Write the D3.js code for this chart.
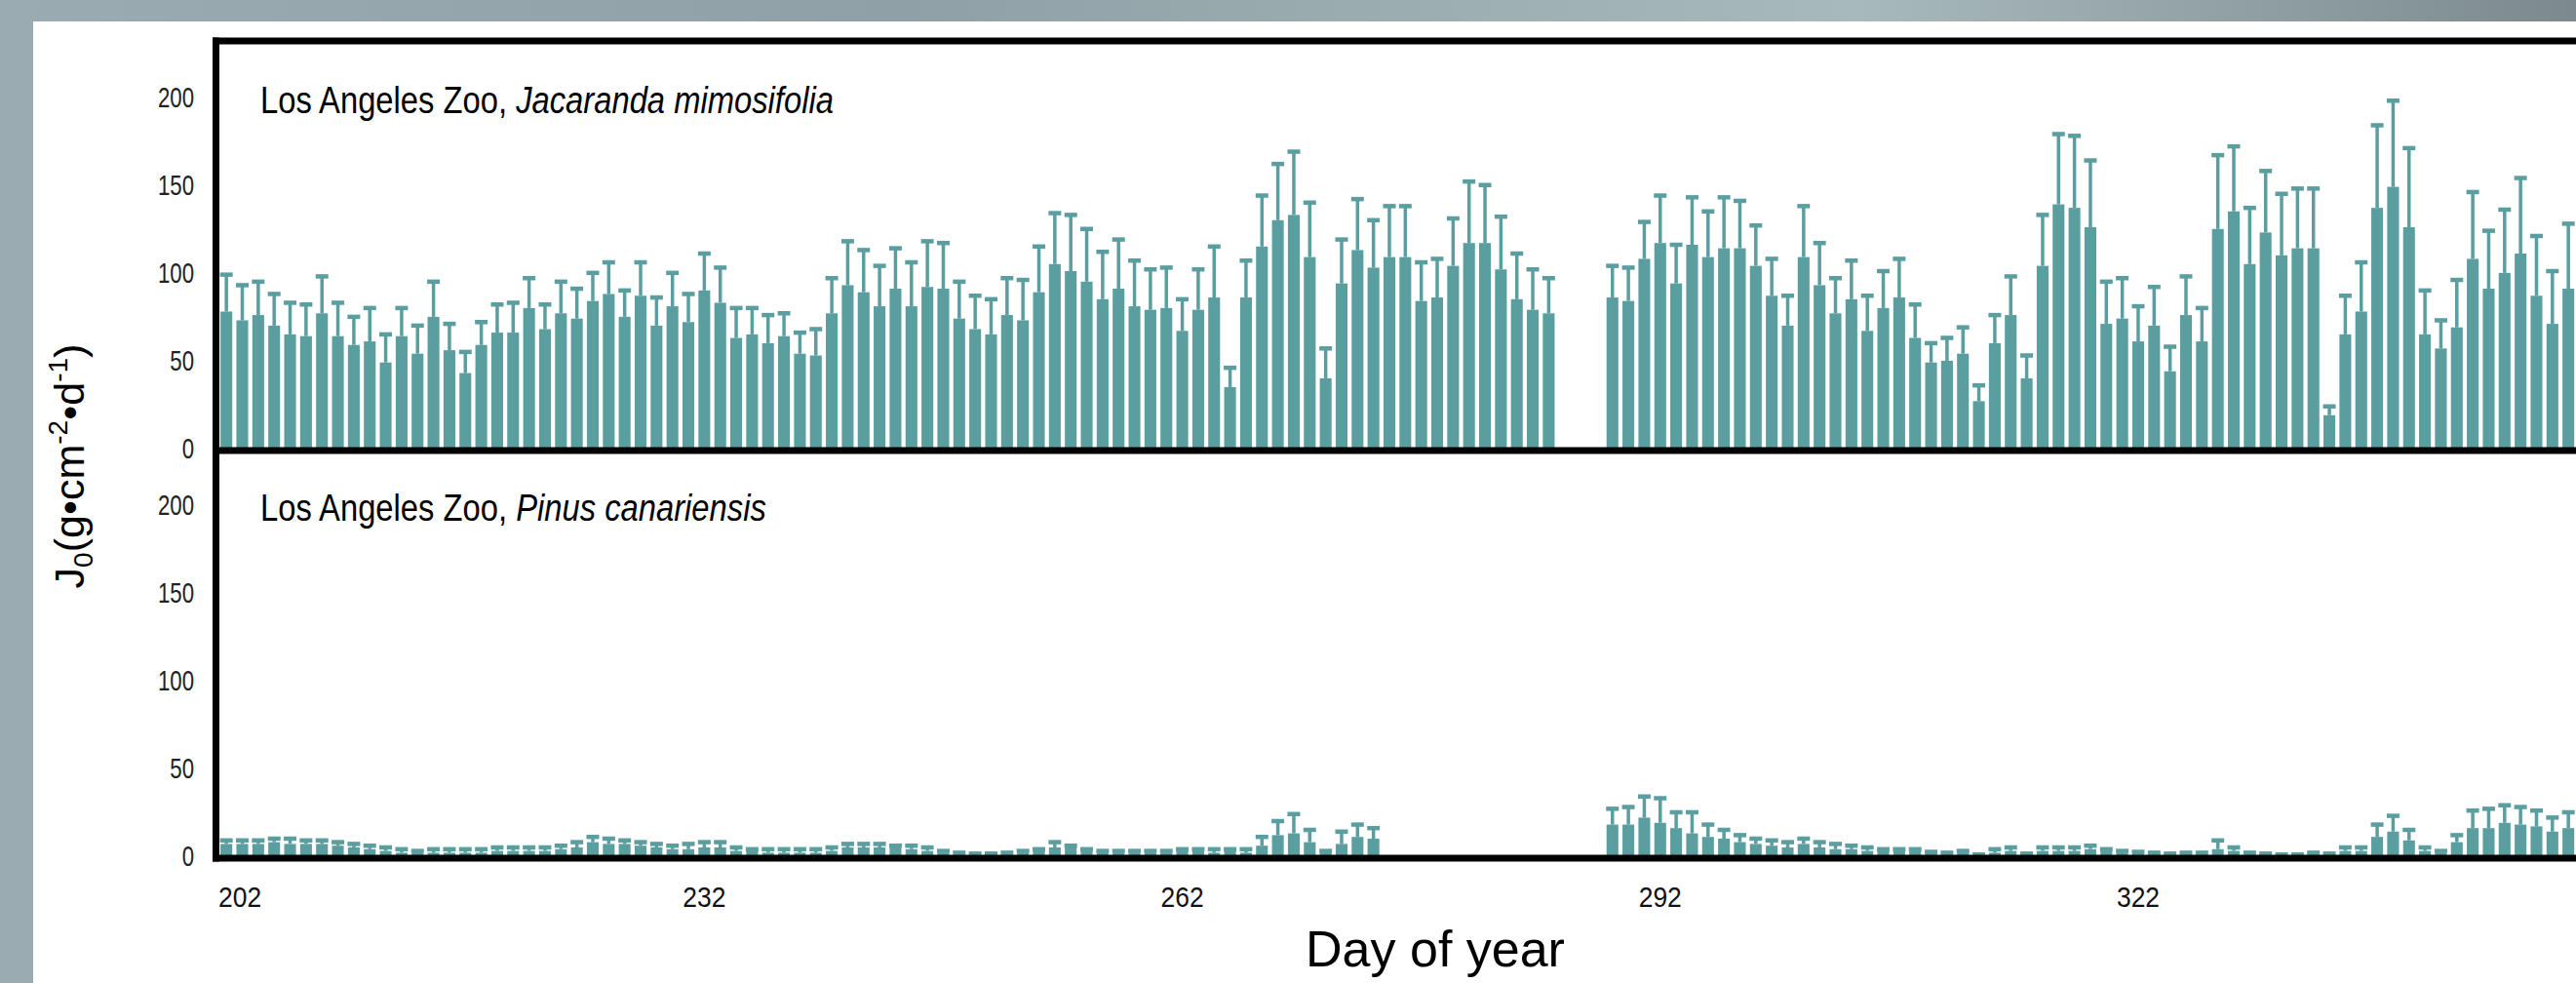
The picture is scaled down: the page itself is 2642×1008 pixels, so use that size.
<!DOCTYPE html>
<html>
<head>
<meta charset="utf-8">
<script src="https://cdn.jsdelivr.net/npm/d3@7"></script>
<style>
  html, body { margin: 0; padding: 0; background: #fff; }
  svg { display: block; font-family: "Liberation Sans", Arial, Helvetica, sans-serif; }
</style>
</head>
<body>
<div id="chart"></div>
<script>
// day of year, one bar per day (202 .. 350)
const days = d3.range(202, 351)

// Jacaranda mimosifolia, mean and standard error (g cm-2 d-1); null = no data
const jacMean = [78, 73, 76, 70, 65, 64, 77, 64, 59, 61, 49, 64, 54, 75, 56, 43, 59, 66, 66, 80,
    68, 77, 74, 84, 88, 75, 87, 70, 81, 72, 90, 83, 63, 65, 60, 64, 54, 53, 77, 93,
    89, 81, 91, 81, 92, 91, 74, 68, 65, 76, 73, 89, 105, 101, 95, 85, 91, 81, 79, 80,
    67, 79, 86, 35, 86, 115, 130, 133, 109, 40, 94, 113, 103, 109, 109, 84, 86, 104, 117, 117,
    102, 85, 79, 77, null, null, null, 86, 84, 108, 117, 94, 116, 109, 114, 114, 104, 87, 70, 109,
    93, 77, 85, 67, 80, 86, 63, 49, 50, 54, 27, 60, 76, 40, 104, 139, 137, 126, 71, 74,
    61, 70, 44, 76, 61, 125, 135, 105, 123, 110, 114, 114, 19, 65, 78, 137, 149, 126, 65, 57,
    69, 108, 91, 100, 111, 87, 71, 91, 95]
const jacSe = [21, 20, 19, 18, 18, 18, 21, 19, 16, 19, 16, 16, 16, 20, 15, 12, 13, 16, 17, 17,
    14, 18, 17, 16, 18, 15, 19, 16, 19, 16, 21, 20, 17, 15, 16, 13, 12, 15, 20, 25,
    24, 23, 23, 25, 26, 26, 21, 19, 20, 21, 23, 26, 29, 32, 30, 27, 28, 26, 23, 23,
    18, 23, 29, 11, 21, 29, 32, 36, 31, 17, 25, 29, 27, 29, 29, 22, 22, 27, 35, 33,
    30, 26, 23, 20, null, null, null, 18, 19, 21, 27, 22, 27, 26, 29, 27, 23, 21, 17, 29,
    24, 20, 22, 20, 21, 22, 19, 11, 13, 15, 9, 16, 22, 13, 29, 40, 41, 38, 24, 23,
    20, 22, 14, 22, 19, 42, 37, 32, 35, 35, 34, 34, 5, 22, 28, 47, 49, 45, 25, 16,
    27, 38, 33, 36, 43, 34, 30, 37, 30]

// Pinus canariensis
const pinMean = [7, 7, 7, 8, 7, 7, 7, 6, 5, 4, 3, 2, 2, 2, 2, 2, 2, 3, 3, 3,
    3, 4, 5, 8, 7, 7, 6, 5, 4, 4, 5, 5, 3, 3, 2, 2, 2, 2, 3, 5,
    5, 5, 5, 4, 3, 2, 1, 1, 1, 1, 2, 3, 5, 5, 3, 2, 2, 2, 2, 2,
    3, 3, 2, 3, 2, 6, 12, 13, 8, 2, 7, 11, 10, null, null, null, null, null, null, null,
    null, null, null, null, null, null, null, 18, 18, 22, 19, 16, 13, 11, 10, 8, 7, 6, 5, 7,
    5, 4, 4, 3, 3, 3, 3, 2, 1, 2, 0.5, 2, 3, 1, 3, 3, 3, 4, 3, 2,
    2, 1, 1, 1, 1, 4, 3, 1, 1, 0, 0, 1, 1, 3, 3, 11, 14, 9, 3, 2,
    8, 16, 16, 19, 18, 17, 14, 16, 15]
const pinSe = [2, 2, 2, 2, 3, 2, 2, 2, 2, 2, 2, 2, 1, 2, 2, 2, 2, 2, 2, 2,
    2, 2, 3, 3, 3, 2, 2, 2, 2, 3, 3, 3, 2, 1, 2, 2, 2, 2, 2, 2,
    2, 2, 1, 2, 2, 1, 1, 0.5, 0.5, 1, 1, 1, 3, 1, 1, 1, 1, 1, 1, 1,
    1, 1, 2, 1, 2, 5, 8, 11, 7, 1, 7, 7, 6, null, null, null, null, null, null, null,
    null, null, null, null, null, null, null, 9, 10, 12, 14, 9, 12, 7, 5, 4, 3, 3, 3, 3,
    3, 3, 2, 2, 1, 1, 1, 0.5, 1, 1, 0.5, 2, 2, 0.5, 2, 2, 2, 2, 1, 1,
    0.5, 1, 0.5, 1, 1, 5, 2, 1, 0.5, 1, 1, 1, 0.5, 2, 2, 7, 9, 6, 2, 1,
    4, 10, 11, 10, 10, 9, 8, 9, 9]

const yTicks = [0, 50, 100, 150, 200]
const xTicks = [202, 232, 262, 292, 322]

var width = 2642
var height = 1008
var bar_color = "#5b9ea0"
var day_step = 16.34
var axis_x = 224

var svg = d3.select("#chart").append("svg")
    .attr("width", width)
    .attr("height", height)

// squeeze text horizontally, the original uses a narrow Helvetica
function condense(sel, k) {
    sel.each(function () {
        var len = this.getComputedTextLength()
        d3.select(this).attr("textLength", len * k).attr("lengthAdjust", "spacingAndGlyphs")
    })
}

// slide background
var grad = svg.append("defs").append("linearGradient")
    .attr("id", "bg").attr("x1", "0%").attr("x2", "100%")
grad.append("stop").attr("offset", "0%").attr("stop-color", "#9aacb1")
grad.append("stop").attr("offset", "35%").attr("stop-color", "#8fa0a6")
grad.append("stop").attr("offset", "72%").attr("stop-color", "#a8b9bd")
grad.append("stop").attr("offset", "100%").attr("stop-color", "#7c8a8f")
svg.append("rect").attr("width", width).attr("height", height).attr("fill", "url(#bg)")
svg.append("rect").attr("x", 34).attr("y", 22)
    .attr("width", width - 34).attr("height", height - 22).attr("fill", "#fff")

// x: one band per day, runs past the right edge like the original
var all_days = d3.range(202, 353)
var x = d3.scaleBand()
    .domain(all_days)
    .range([axis_x, axis_x + all_days.length * day_step])
    .paddingInner(0.26)
    .paddingOuter(0.13)

var y_top = d3.scaleLinear().domain([0, 232]).range([460, 42])
var y_bot = d3.scaleLinear().domain([0, 232]).range([878, 460])

function draw_panel(mean, se, y, name, species) {
    var data = []
    for (var i = 0; i < days.length; ++i) {
        if (mean[i] === null) continue
        data.push({ day: days[i], mean: mean[i], se: se[i] })
    }
    var g = svg.append("g")
    var half = x.bandwidth() / 2

    g.selectAll(".bar").data(data)
        .enter().append("rect")
        .attr("class", "bar")
        .attr("x", function (d) { return x(d.day) })
        .attr("width", x.bandwidth())
        .attr("y", function (d) { return y(d.mean) })
        .attr("height", function (d) { return y(0) - y(d.mean) })
        .attr("fill", bar_color)

    g.selectAll(".err").data(data)
        .enter().append("line")
        .attr("class", "err")
        .attr("x1", function (d) { return x(d.day) + half })
        .attr("x2", function (d) { return x(d.day) + half })
        .attr("y1", function (d) { return y(d.mean) })
        .attr("y2", function (d) { return y(d.mean + d.se) })
        .attr("stroke", bar_color)
        .attr("stroke-width", 3.5)

    g.selectAll(".cap").data(data)
        .enter().append("line")
        .attr("class", "cap")
        .attr("x1", function (d) { return x(d.day) + half - 6.5 })
        .attr("x2", function (d) { return x(d.day) + half + 6.5 })
        .attr("y1", function (d) { return y(d.mean + d.se) })
        .attr("y2", function (d) { return y(d.mean + d.se) })
        .attr("stroke", bar_color)
        .attr("stroke-width", 4.5)

    var ax = svg.append("g")
        .attr("transform", "translate(" + axis_x + ",0)")
        .call(d3.axisLeft(y).tickValues(yTicks).tickSize(0).tickPadding(25))
    ax.select(".domain").remove()
    ax.selectAll("text")
        .attr("font-size", 30)
        .attr("font-family", "Liberation Sans, Arial, sans-serif")
        .attr("fill", "#222")
        .call(condense, 0.74)

    // panel title: site name, then the species in italics (narrowed with a scale)
    var t = svg.append("text")
        .attr("transform", "translate(267," + (y(232) + 74) + ") scale(0.84,1)")
        .attr("font-size", 39)
        .attr("fill", "#000")
    t.append("tspan").text(name)
    t.append("tspan").attr("font-style", "italic").text(species)
}

draw_panel(jacMean, jacSe, y_top, "Los Angeles Zoo, ", "Jacaranda mimosifolia")
draw_panel(pinMean, pinSe, y_bot, "Los Angeles Zoo, ", "Pinus canariensis")

// frame
var frame = svg.append("g").attr("stroke", "#000").attr("stroke-width", 7)
frame.append("line").attr("x1", axis_x - 6).attr("x2", width).attr("y1", y_top(232)).attr("y2", y_top(232))
frame.append("line").attr("x1", axis_x - 6).attr("x2", width).attr("y1", y_top(0) + 2).attr("y2", y_top(0) + 2)
frame.append("line").attr("x1", axis_x - 6).attr("x2", width).attr("y1", y_bot(0) + 2).attr("y2", y_bot(0) + 2)
frame.append("line").attr("x1", axis_x - 2.5).attr("x2", axis_x - 2.5)
    .attr("y1", y_top(232) - 3.5).attr("y2", y_bot(0) + 5.5)

// x axis labels
var xa = svg.append("g")
    .attr("transform", "translate(0," + (y_bot(0) + 2) + ")")
    .call(d3.axisBottom(x).tickValues(xTicks).tickSize(0).tickPadding(29))
xa.select(".domain").remove()
xa.selectAll("text")
    .attr("font-size", 30)
    .attr("font-family", "Liberation Sans, Arial, sans-serif")
    .attr("fill", "#111")
    .call(condense, 0.88)
xa.selectAll("text").filter(function (d) { return d === 202 })
    .attr("text-anchor", "start")
    .attr("x", -(x(202) + x.bandwidth() / 2 - axis_x))

svg.append("text")
    .attr("x", 1472)
    .attr("y", 991)
    .attr("text-anchor", "middle")
    .attr("font-size", 52)
    .text("Day of year")

// y title  J0(g•cm-2•d-1)
var yt = svg.append("text")
    .attr("transform", "translate(86,478) rotate(-90)")
    .attr("text-anchor", "middle")
    .attr("font-size", 43)
yt.append("tspan").text("J")
yt.append("tspan").attr("font-size", 28).attr("dy", 9).text("0")
yt.append("tspan").attr("dy", -9).text("(g•cm")
yt.append("tspan").attr("font-size", 28).attr("dy", -17).text("-2")
yt.append("tspan").attr("dy", 17).text("•d")
yt.append("tspan").attr("font-size", 28).attr("dy", -17).text("-1")
yt.append("tspan").attr("dy", 17).text(")")
</script>
</body>
</html>
